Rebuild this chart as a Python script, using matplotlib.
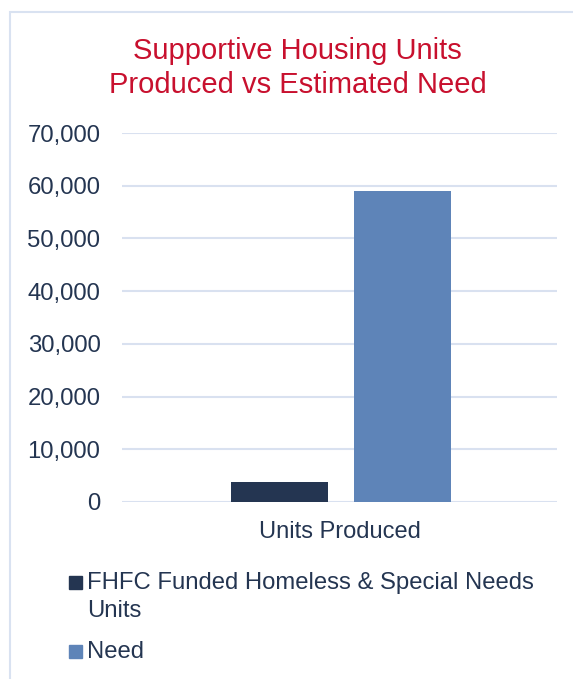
import matplotlib.pyplot as plt
from matplotlib.patches import Rectangle
from matplotlib.ticker import FuncFormatter

plt.rcParams['font.family'] = ['Liberation Sans', 'DejaVu Sans']

categories = ["Units Produced"]
series_names = ["FHFC Funded Homeless & Special Needs\nUnits", "Need"]
series_values = [[3800], [59000]]
colors = ["#243551", "#5E84B8"]
title_lines = ["Supportive Housing Units", "Produced vs Estimated Need"]

W, H = 573, 679
fig = plt.figure(figsize=(W / 100, H / 100), dpi=100)
txt = "#243551"

# chart border (left and top only visible)
fig.patches.append(Rectangle((10 / W, -0.1), 2.0, 1 - 12 / H + 0.1,
                             transform=fig.transFigure, fill=False,
                             edgecolor="#D9E2F1", linewidth=1.5))

ax = fig.add_axes([122 / W, 1 - 502 / H, (557 - 122) / W, (502 - 133) / H])

offsets = [-0.138, 0.145]
width = 0.223
for vals, off, c in zip(series_values, offsets, colors):
    ax.bar([i + off for i in range(len(categories))], vals, width=width, color=c)

ax.set_xlim(-0.5, len(categories) - 0.5)
ax.set_ylim(0, 70000)
ax.set_yticks(range(0, 70001, 10000))
ax.yaxis.set_major_formatter(FuncFormatter(lambda v, p: f"{int(v):,}"))
ax.set_xticks(range(len(categories)))
ax.set_xticklabels(categories, fontsize=17, color=txt)
ax.tick_params(axis="x", length=0, pad=14)
ax.tick_params(axis="y", length=0, pad=15.5, labelsize=17.2, labelcolor=txt)
ax.grid(axis="y", color="#D9E1F0", linewidth=1.5)
ax.set_axisbelow(True)
for s in ax.spines.values():
    s.set_visible(False)

for line, base in zip(title_lines, [59, 93]):
    fig.text(297.5 / W, 1 - base / H, line, ha="center", va="baseline",
             fontsize=21, color="#C8102E")

# legend
leg_base = [589, 658]
for name, c, y in zip(series_names, colors, leg_base):
    fig.patches.append(Rectangle((69 / W, 1 - y / H), 13 / W, 13 / H,
                                 transform=fig.transFigure, color=c))
    for j, line in enumerate(name.split("\n")):
        fig.text(87 / W, 1 - (y + 28 * j) / H, line, ha="left", va="baseline",
                 fontsize=17.2, color=txt)

fig.savefig("out.png", dpi=100)
